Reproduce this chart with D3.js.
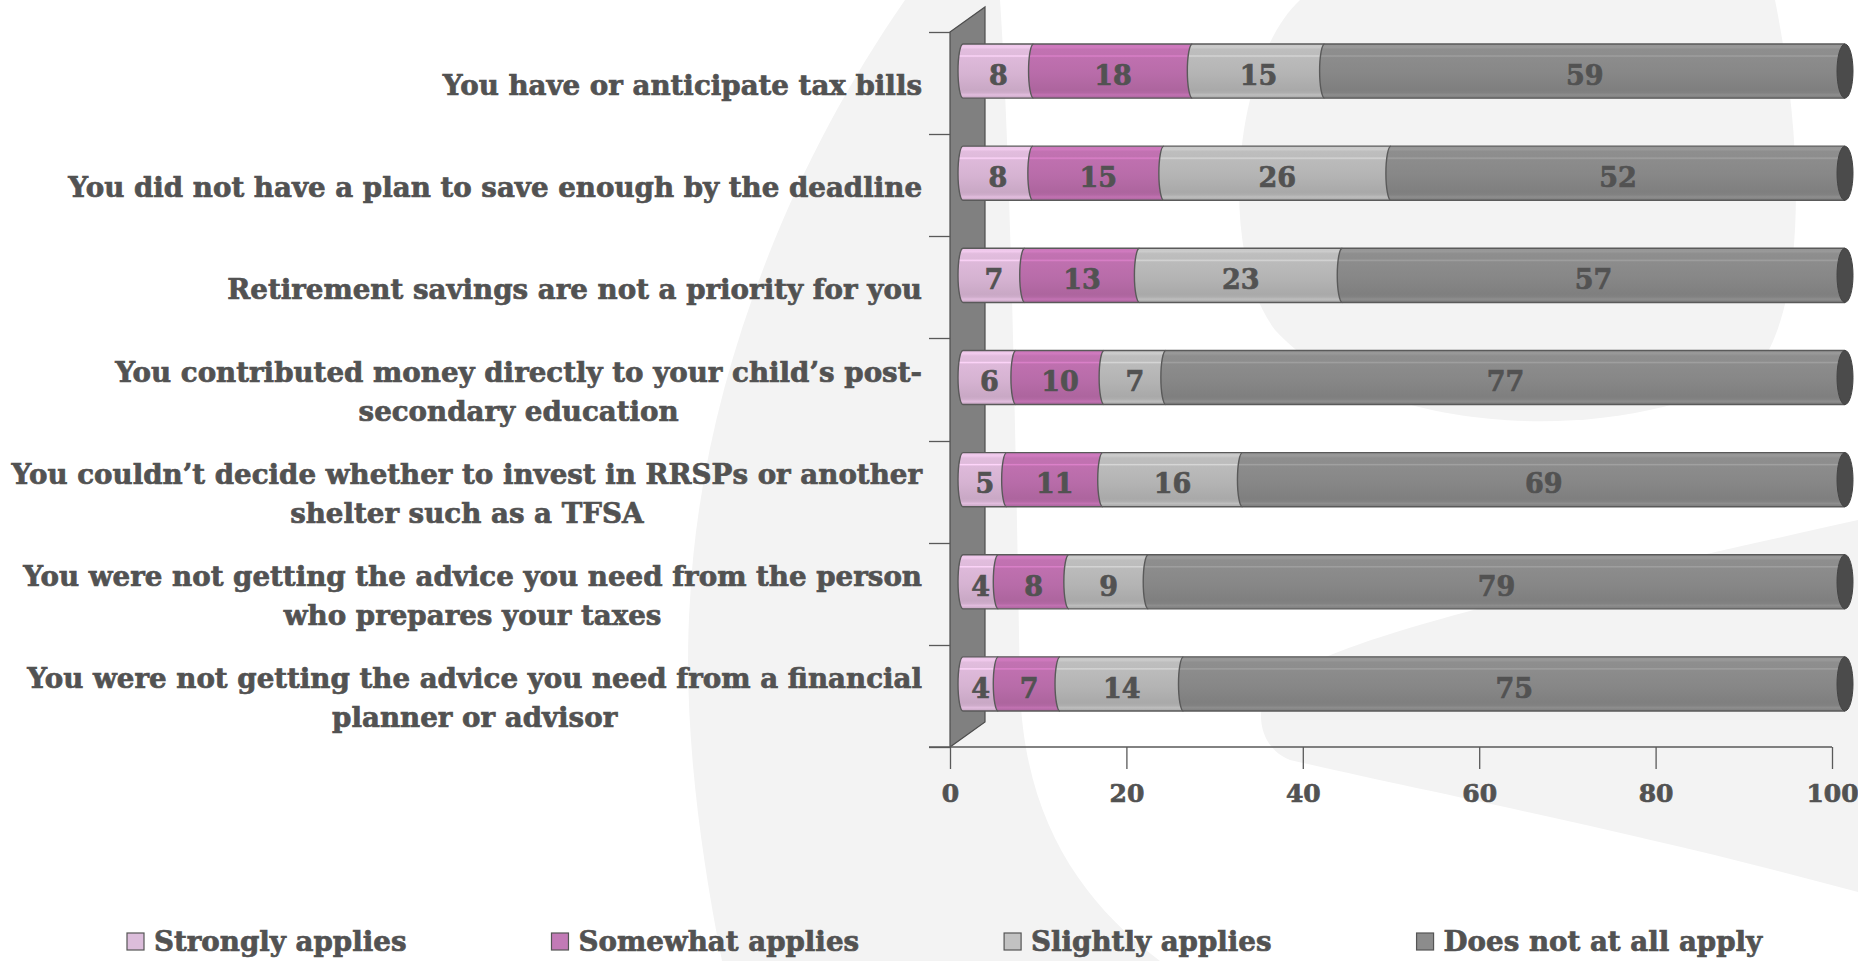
<!DOCTYPE html>
<html><head><meta charset="utf-8">
<script src="https://cdn.jsdelivr.net/npm/d3@7"></script>
<style>html,body{margin:0;padding:0;background:#fff;} svg{display:block;}</style>
</head><body><svg id="chart" width="1858" height="961"></svg>
<script>
// ---------- data ----------
const categories = [
  "You have or anticipate tax bills",
  "You did not have a plan to save enough by the deadline",
  "Retirement savings are not a priority for you",
  "You contributed money directly to your child’s post-|secondary education",
  "You couldn’t decide whether to invest in RRSPs or another|shelter such as a TFSA",
  "You were not getting the advice you need from the person|who prepares your taxes",
  "You were not getting the advice you need from a financial|planner or advisor"
];
const seriesNames = ["Strongly applies", "Somewhat applies", "Slightly applies", "Does not at all apply"];
const strongly = [8, 8, 7, 6, 5, 4, 4];
const somewhat = [18, 15, 13, 10, 11, 8, 7];
const slightly = [15, 26, 23, 7, 16, 9, 14];
const doesNot  = [59, 52, 57, 77, 69, 79, 75];
const xTicks = [0, 20, 40, 60, 80, 100];
const seriesColors = ["#d6b3d2", "#b86ca9", "#b4b4b4", "#878787"];
const legendColors = ["#dcbddb", "#c27ab6", "#c2c2c2", "#8c8c8c"];

// ---------- setup ----------
const FONT = "'DejaVu Serif', serif";
const TXT = "#525252";
const svg = d3.select("#chart");
const W = 1858, H = 961;

function heavy(sel, size) {
  return sel.attr("font-family", FONT).attr("font-weight", "bold").attr("font-size", size)
    .attr("fill", TXT).attr("stroke", TXT).attr("stroke-width", 0.7).attr("paint-order", "stroke");
}

// background watermark
const bg = svg.append("g");
bg.append("rect").attr("width", W).attr("height", H).attr("fill", "#ffffff");
const bgPaths = [
  "M905,0 L1000,0 C1010,150 1015,400 1020,690 C1025,820 1080,900 1160,961 L722,961 C700,850 682,720 690,600 C700,400 780,180 905,0 Z",
  "M1300,0 C1235,60 1215,250 1275,330 C1380,445 1650,445 1760,365 C1805,300 1805,150 1775,0 Z",
  "M1262,705 C1275,650 1500,600 1858,520 L1858,892 C1650,835 1420,790 1290,760 C1265,750 1258,725 1262,705 Z"
];
bg.selectAll("path").data(bgPaths).join("path").attr("d", d => d).attr("fill", "#f3f3f3");

const x = d3.scaleLinear().domain([0, 100]).range([950, 1832]);
const y = d3.scaleBand().domain(categories).range([33, 748]).padding(0);
const step = y.step();
const axisY = y.range()[1] - 1;
const wallDX = 35, wallDY = -25;
const barDX = 13, barDY = -13;
const barH = step * 0.53;
const bulge = 5;

// gradients
const defs = svg.append("defs");
seriesColors.forEach((c, i) => {
  const base = d3.color(c);
  const g = defs.append("linearGradient").attr("id", "g" + i)
    .attr("x1", 0).attr("y1", 0).attr("x2", 0).attr("y2", 1);
  const stops = [
    [0, base.brighter(0.25)], [0.06, base.brighter(0.35)], [0.10, base.brighter(0.15)],
    [0.2, base.brighter(0.12)], [0.22, base.brighter(0.5)], [0.25, base.brighter(0.1)],
    [0.55, base], [0.85, base.darker(0.18)], [0.9, base.darker(0.1)], [0.94, base.brighter(0.15)],
    [1, base.darker(0.25)]
  ];
  stops.forEach(([o, col]) => g.append("stop").attr("offset", o).attr("stop-color", col.formatHex()));
});

// wall
const x0 = x(0);
svg.append("path")
  .attr("d", `M${x0},${y.range()[0] - 1} L${x0 + wallDX},${y.range()[0] - 1 + wallDY} L${x0 + wallDX},${axisY + wallDY} L${x0},${axisY} Z`)
  .attr("fill", "#808080").attr("stroke", "#4d4d4d").attr("stroke-width", 1.2);

// category ticks
const boundaries = categories.map(c => y(c)).concat([y.range()[1]]);
svg.append("g").selectAll("line").data(boundaries).join("line")
  .attr("x1", x0 - 21).attr("x2", x0).attr("y1", d => Math.round(d) - 0.5).attr("y2", d => Math.round(d) - 0.5)
  .attr("stroke", "#595959").attr("stroke-width", 1.3);

// x axis
const xAxis = svg.append("g").attr("transform", `translate(0,${axisY})`)
  .call(d3.axisBottom(x).tickValues(xTicks).tickSize(22).tickSizeOuter(0));
xAxis.select(".domain").remove();
xAxis.append("line").attr("x1", x0 - 21).attr("x2", x(100)).attr("y1", 0).attr("y2", 0)
  .attr("stroke", "#595959").attr("stroke-width", 1.3);
xAxis.selectAll(".tick line").attr("stroke", "#595959").attr("stroke-width", 1.3);
heavy(xAxis.selectAll(".tick text").attr("y", 46).attr("dy", "0.36em"), 25);

// stacked bars
const rows = categories.map((c, i) => ({ cat: c, s0: strongly[i], s1: somewhat[i], s2: slightly[i], s3: doesNot[i] }));
const keys = ["s0", "s1", "s2", "s3"];
const stacked = d3.stack().keys(keys).offset(d3.stackOffsetExpand)(rows);

function barTop(c) { return y(c) + step / 2 + barDY - barH / 2; }
function fillPath(xa, xb, yt, h) {
  return `M${xa},${yt}L${xb},${yt}L${xb},${yt + h}L${xa},${yt + h}A${bulge},${h / 2} 0 0 1 ${xa},${yt}Z`;
}
function strokePath(xa, xb, yt, h) {
  return `M${xb},${yt}L${xa},${yt}A${bulge},${h / 2} 0 0 0 ${xa},${yt + h}L${xb},${yt + h}`;
}

const barsG = svg.append("g");
stacked.forEach((layer, si) => {
  const g = barsG.append("g");
  layer.forEach(d => {
    const xa = x(d[0] * 100) + barDX, xb = x(d[1] * 100) + barDX;
    const yt = barTop(d.data.cat);
    g.append("path").attr("d", fillPath(xa, xb, yt, barH)).attr("fill", `url(#g${si})`);
    g.append("path").attr("d", strokePath(xa, xb, yt, barH)).attr("fill", "none")
      .attr("stroke", "#5a5a5a").attr("stroke-width", 1.4);
    if (si === keys.length - 1) {
      g.append("ellipse").attr("cx", xb).attr("cy", yt + barH / 2).attr("rx", 8).attr("ry", barH / 2)
        .attr("fill", "#4b4b4b").attr("stroke", "#444").attr("stroke-width", 1);
    }
  });
});

// value labels
const labelsG = svg.append("g");
stacked.forEach((layer, si) => {
  layer.forEach(d => {
    const xa = x(d[0] * 100) + barDX, xb = x(d[1] * 100) + barDX;
    heavy(labelsG.append("text")
      .attr("x", (xa + xb) / 2).attr("y", barTop(d.data.cat) + barH / 2 + 4).attr("dy", "0.36em")
      .attr("text-anchor", "middle"), 27)
      .text(d.data[keys[si]]);
  });
});

// category labels
const catG = svg.append("g");
const labelRight = 922, lineH = 39;
categories.forEach(c => {
  const lines = c.split("|");
  const cy = y(c) + step / 2 + 1;
  const t = heavy(catG.append("text").attr("text-anchor", "middle"), 27.7);
  const spans = lines.map((ln, li) => t.append("tspan").text(ln)
    .attr("y", cy + (li - (lines.length - 1) / 2) * lineH).attr("dy", "0.36em"));
  const maxW = d3.max(spans, s => s.node().getComputedTextLength());
  spans.forEach(s => s.attr("x", labelRight - maxW / 2));
});

// legend
const legG = svg.append("g");
let lx = 127;
seriesNames.forEach((name, i) => {
  legG.append("rect").attr("x", lx).attr("y", 933).attr("width", 17).attr("height", 17)
    .attr("fill", legendColors[i]).attr("stroke", "#555").attr("stroke-width", 1.2);
  const t = heavy(legG.append("text").attr("x", lx + 27).attr("y", 941).attr("dy", "0.36em"), 27.7)
    .text(name);
  lx = lx + 27 + t.node().getComputedTextLength() + 145;
});
</script>
</body></html>
